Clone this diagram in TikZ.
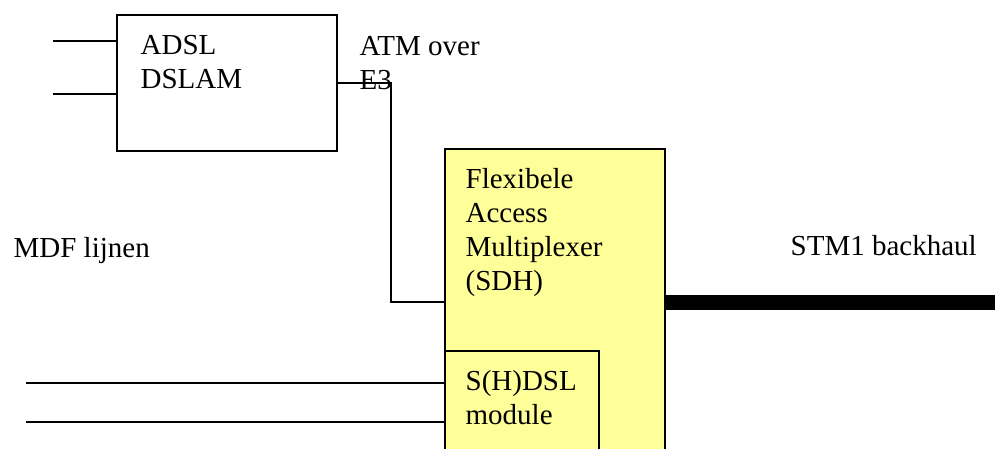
\documentclass[tikz,border=0pt]{standalone}
\usepackage{fontspec}
\setmainfont{Liberation Serif}
\usetikzlibrary{positioning}
\definecolor{famyellow}{RGB}{255,255,153}

\begin{document}
\begin{tikzpicture}[
    x=1pt, y=-1pt,
    font=\fontsize{29}{34}\selectfont,
    line width=1.3pt,
    box/.style={draw, rectangle, inner sep=0pt},
    lbl/.style={anchor=north west, inner sep=0pt, align=left}
  ]
  \useasboundingbox (0,0) rectangle (995,448);
  \clip (0,0) rectangle (995,448);

  % boxes
  \node[box, minimum width=220pt, minimum height=136pt] (dslam) at (227,83) {};
  \node[box, fill=famyellow, minimum width=220pt, minimum height=306pt] (fam) at (555,302) {};
  \node[box, fill=famyellow, minimum width=154pt, minimum height=104pt] (shdsl) at (522,403) {};

  % labels
  \node[lbl] (dslamtxt) at (140,35) {ADSL\\DSLAM};
  \node[lbl] (atmtxt) at (359,36) {ATM over\\E3};
  \node[lbl] (famtxt) at (465,168) {Flexibele\\Access\\Multiplexer\\(SDH)};
  \node[lbl] (shdsltxt) at (465,370) {S(H)DSL\\module};
  \node[lbl] (mdftxt) at (13,237) {MDF lijnen};
  \node[lbl] (stmtxt) at (790,235) {STM1 backhaul};

  % free ends
  \coordinate (adslin1) at (53,41);
  \coordinate (adslin2) at (53,94);
  \coordinate (mdf1) at (26,383);
  \coordinate (mdf2) at (26,422);
  \coordinate (atmbend) at (391,200);
  \coordinate (stmend) at (1000,302);

  % lines
  \draw (adslin1) -- (adslin1 -| dslam.west);
  \draw (adslin2) -- (adslin2 -| dslam.west);
  \draw (dslam.east) -| (atmbend) |- (fam.west);
  \draw (mdf1) -- (mdf1 -| shdsl.west);
  \draw (mdf2) -- (mdf2 -| shdsl.west);

  % STM1
  \draw[line width=15pt] (fam.east) -- (stmend);
\end{tikzpicture}
\end{document}
